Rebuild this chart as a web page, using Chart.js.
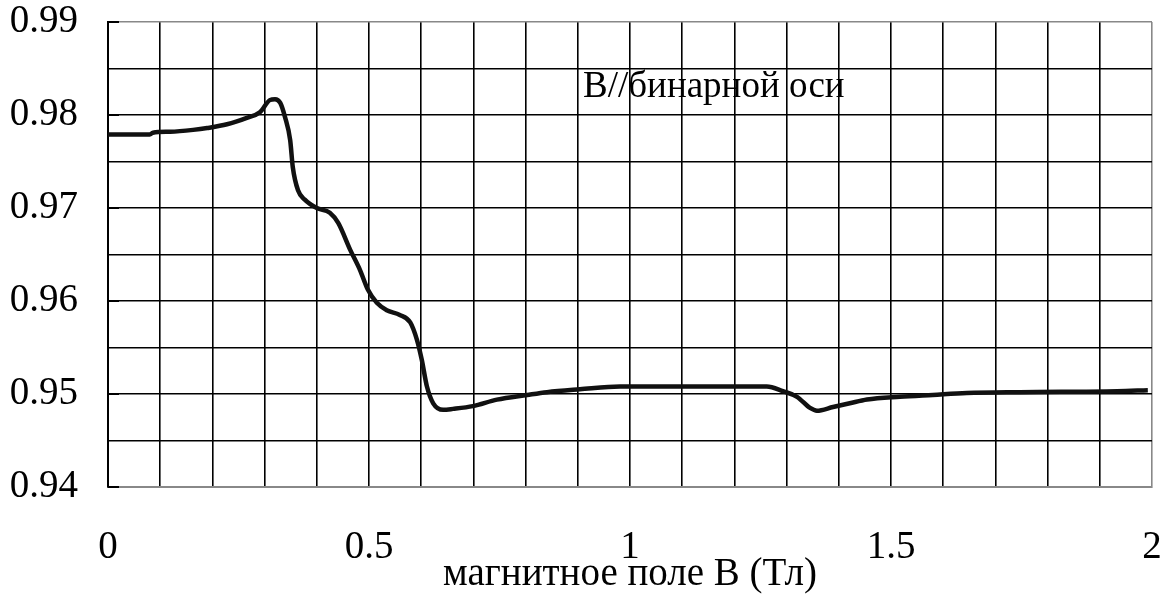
<!DOCTYPE html>
<html>
<head>
<meta charset="utf-8">
<script src="https://cdn.jsdelivr.net/npm/chart.js@4/dist/chart.umd.min.js"></script>
<style>
    html, body { margin: 0; padding: 0; background: #fff; }
    #chart { display: block; }
</style>
</head>
<body>
<canvas id="chart" width="1169" height="594"></canvas>
<script>
// magnetic field, T
const fieldB = [
    0, 0.08, 0.086, 0.119, 0.163, 0.19, 0.228, 0.266, 0.291, 0.31, 0.32, 0.33,
    0.339, 0.349, 0.354, 0.364, 0.377, 0.4, 0.425, 0.441, 0.464, 0.483, 0.498,
    0.515, 0.534, 0.559, 0.579, 0.592, 0.601, 0.611, 0.623, 0.642, 0.661, 0.699,
    0.745, 0.803, 0.841, 0.904, 0.981, 1.262, 1.293, 1.32, 1.345, 1.358, 1.389,
    1.421, 1.454, 1.517, 1.58, 1.645, 1.747, 1.933, 1.992
];
const ratio = [
    0.9779, 0.9779, 0.9781, 0.9782, 0.9784, 0.9786, 0.979, 0.9797, 0.9803, 0.9816, 0.9817, 0.9813,
    0.9798, 0.9773, 0.9744, 0.9719, 0.9709, 0.97, 0.9695, 0.9684, 0.9655, 0.9633, 0.9612,
    0.9598, 0.959, 0.9585, 0.9577, 0.9558, 0.9537, 0.9508, 0.949, 0.9483, 0.9484, 0.9487,
    0.9494, 0.9499, 0.9502, 0.9505, 0.9508, 0.9508, 0.9503, 0.9497, 0.9485, 0.9482, 0.9486,
    0.949, 0.9494, 0.9497, 0.9499, 0.9501, 0.9502, 0.9503, 0.9504
];

const xTickLabels = [0, 0.5, 1, 1.5, 2];
const yTickLabels = [0.94, 0.95, 0.96, 0.97, 0.98, 0.99];
const xGridStep = 0.1;
const yGridStep = 0.005;

const noteText = 'B//бинарной оси';
const notePos = [0.91, 0.9819];
const xTitle = 'магнитное поле B (Тл)';

const SERIF = '"Liberation Serif", "Times New Roman", serif';

function gridTicks(min, max, step) {
    let ticks = [];
    let n = Math.round((max - min) / step);
    for (let i = 0; i <= n; i++) {
        ticks.push({value: +(min + i * step).toFixed(4)});
    }
    return ticks;
}

function isLabelled(value, labels) {
    return labels.some(v => Math.abs(v - value) < 1e-6);
}

// keep label overhang from shrinking the plot area
function noOverhang(scale) {
    scale.paddingTop = 0;
    scale.paddingBottom = 0;
    scale.paddingLeft = 0;
    scale.paddingRight = 0;
}

// short ticks inside the plot next to the left axis, plus the text note
const extrasPlugin = {
    id: 'extras',
    afterDraw(chart) {
        const ctx = chart.ctx;
        const xs = chart.scales.x;
        const ys = chart.scales.y;
        const left = chart.chartArea.left;
        ctx.save();
        ctx.strokeStyle = '#000';
        ctx.lineWidth = 2;
        yTickLabels.forEach(v => {
            let py = Math.round(ys.getPixelForValue(v));
            ctx.beginPath();
            ctx.moveTo(left, py);
            ctx.lineTo(left + 11, py);
            ctx.stroke();
        });
        ctx.fillStyle = '#000';
        ctx.font = '37px ' + SERIF;
        ctx.textBaseline = 'alphabetic';
        ctx.textAlign = 'left';
        ctx.fillText(noteText, xs.getPixelForValue(notePos[0]), ys.getPixelForValue(notePos[1]));
        ctx.restore();
    }
};

const points = fieldB.map((b, i) => ({x: b, y: ratio[i]}));

new Chart(document.getElementById('chart'), {
    type: 'line',
    data: {
        datasets: [{
            data: points,
            borderColor: '#111',
            borderWidth: 4.5,
            pointRadius: 0,
            fill: false,
            cubicInterpolationMode: 'monotone'
        }]
    },
    options: {
        responsive: false,
        animation: false,
        devicePixelRatio: 1,
        layout: {
            padding: {top: 22, right: 17, bottom: 0, left: 0}
        },
        plugins: {
            legend: {display: false},
            tooltip: {enabled: false}
        },
        scales: {
            x: {
                type: 'linear',
                min: 0,
                max: 2,
                afterBuildTicks: scale => { scale.ticks = gridTicks(0, 2, xGridStep); },
                afterFit: scale => { scale.height = 107; noOverhang(scale); },
                grid: {
                    color: ctx => (ctx.tick && ctx.tick.value >= 2) ? '#888' : '#000',
                    lineWidth: 1.6,
                    drawTicks: false
                },
                border: {color: '#888', width: 2},
                ticks: {
                    autoSkip: false,
                    maxRotation: 0,
                    padding: 37,
                    color: '#000',
                    font: {family: SERIF, size: 39, lineHeight: 1.2},
                    callback: value => isLabelled(value, xTickLabels) ? String(value) : ''
                },
                title: {
                    display: true,
                    text: xTitle,
                    color: '#000',
                    font: {family: SERIF, size: 39, lineHeight: 1},
                    padding: {top: 0, bottom: 0}
                }
            },
            y: {
                type: 'linear',
                min: 0.94,
                max: 0.99,
                afterBuildTicks: scale => { scale.ticks = gridTicks(0.94, 0.99, yGridStep); },
                afterFit: scale => { scale.width = 108; noOverhang(scale); },
                grid: {
                    color: ctx => (ctx.tick && ctx.tick.value >= 0.99 - 1e-6) ? '#888' : '#000',
                    lineWidth: 1.6,
                    drawTicks: false
                },
                border: {color: '#000', width: 2},
                ticks: {
                    autoSkip: false,
                    padding: 30,
                    color: '#000',
                    font: {family: SERIF, size: 39, lineHeight: 1},
                    callback: value => isLabelled(value, yTickLabels) ? value.toFixed(2) : ''
                }
            }
        }
    },
    plugins: [extrasPlugin]
});
</script>
</body>
</html>
